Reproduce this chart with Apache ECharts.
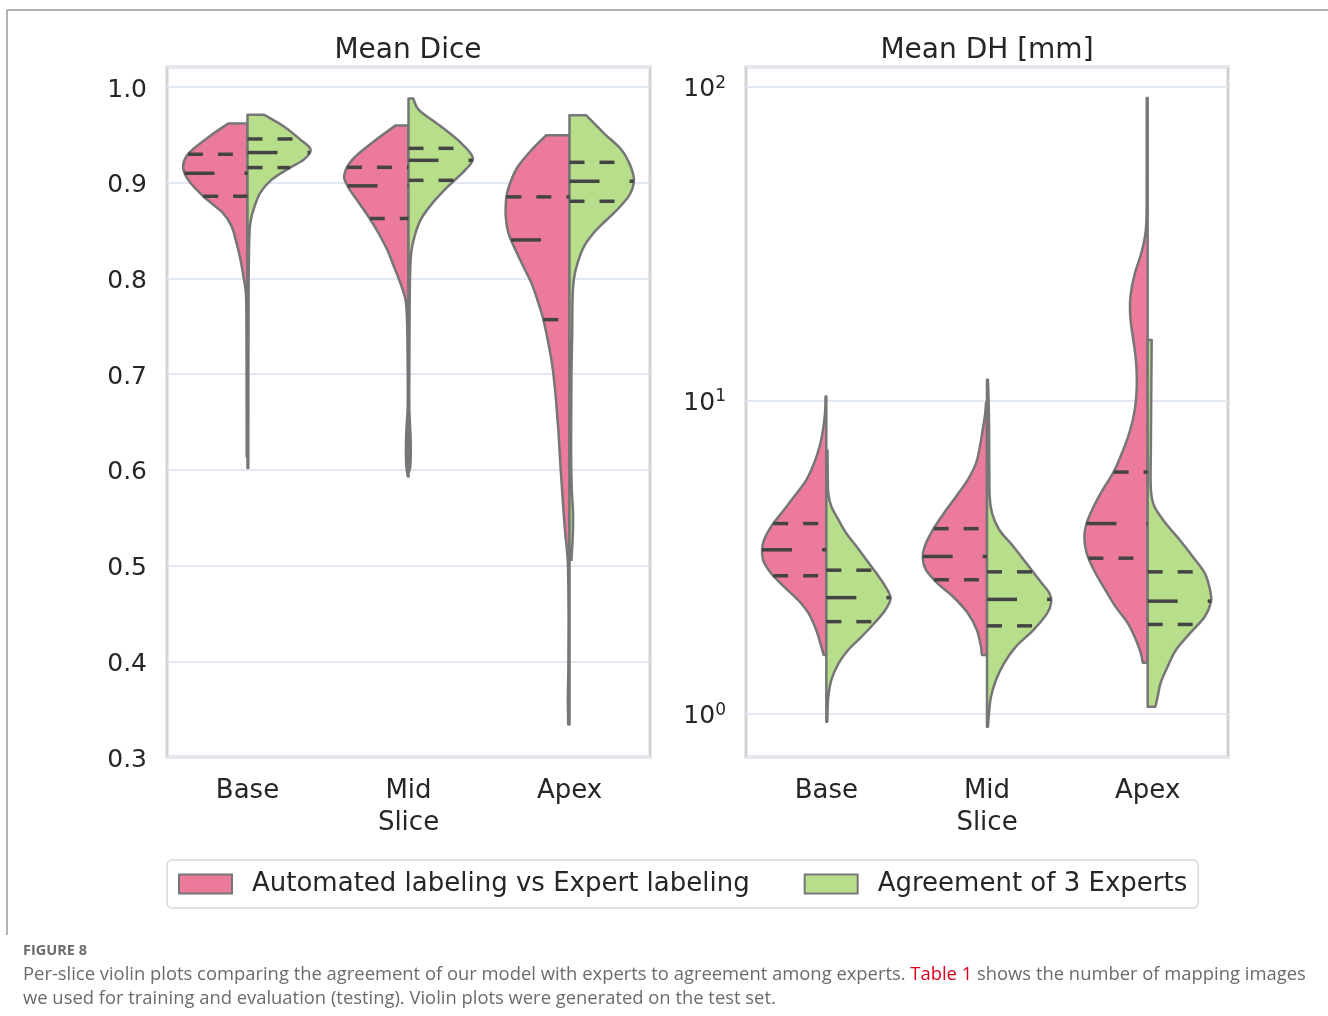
<!DOCTYPE html>
<html>
<head>
<meta charset="utf-8">
<script src="https://cdn.jsdelivr.net/npm/echarts@6/dist/echarts.min.js"></script>
<style>
  html, body { margin: 0; padding: 0; background: #ffffff; }
  #chart { width: 1328px; height: 1016px; }
</style>
</head>
<body>
<div id="chart"></div>
<script>
// ---- data -----------------------------------------------------------------
const categories = ['Base', 'Mid\nSlice', 'Apex'];
const groupNames = ['Automated labeling vs Expert labeling', 'Agreement of 3 Experts'];
const panelTitles = ['Mean Dice', 'Mean DH [mm]'];

// Kernel density profiles, one per slice: [metric value, relative density (1 = widest)]
// Mean Dice, automated labeling vs expert labeling
const diceAutoBase = [[0.614,0.012],[0.70,0.014],[0.75,0.016],[0.785,0.025],[0.802,0.063],[0.820,0.11],[0.837,0.17],[0.855,0.25],[0.869,0.39],[0.886,0.69],[0.903,0.92],[0.917,1.0],[0.931,0.91],[0.949,0.58],[0.962,0.30]];
const diceAutoMid = [[0.593,0.01],[0.605,0.035],[0.625,0.04],[0.645,0.03],[0.665,0.012],[0.72,0.014],[0.757,0.023],[0.778,0.047],[0.795,0.125],[0.813,0.23],[0.830,0.33],[0.848,0.47],[0.865,0.625],[0.882,0.8],[0.896,0.94],[0.9075,1.0],[0.924,0.875],[0.942,0.56],[0.960,0.2]];
const diceAutoApex = [[0.334,0.02],[0.36,0.025],[0.39,0.018],[0.45,0.014],[0.499,0.023],[0.514,0.036],[0.5345,0.067],[0.569,0.105],[0.604,0.14],[0.639,0.17],[0.656,0.19],[0.6735,0.21],[0.691,0.235],[0.708,0.265],[0.726,0.31],[0.743,0.36],[0.7605,0.42],[0.778,0.5],[0.795,0.59],[0.813,0.72],[0.830,0.84],[0.848,0.95],[0.865,0.99],[0.8824,0.985],[0.900,0.92],[0.917,0.8],[0.935,0.58],[0.9497,0.36]];
// Mean Dice, agreement of 3 experts
const diceExpBase = [[0.602,0.012],[0.70,0.014],[0.80,0.018],[0.848,0.031],[0.8615,0.052],[0.8754,0.11],[0.8898,0.2],[0.9033,0.375],[0.9138,0.61],[0.9242,0.875],[0.9347,0.98],[0.9451,0.82],[0.959,0.56],[0.971,0.26]];
const diceExpMid = [[0.598,0.01],[0.605,0.03],[0.625,0.035],[0.645,0.025],[0.665,0.012],[0.75,0.016],[0.80,0.023],[0.827,0.042],[0.844,0.094],[0.8615,0.19],[0.879,0.375],[0.896,0.61],[0.914,0.89],[0.926,1.0],[0.942,0.81],[0.959,0.5],[0.9765,0.156],[0.988,0.073]];
const diceExpApex = [[0.506,0.03],[0.53,0.05],[0.555,0.055],[0.58,0.035],[0.62,0.025],[0.70,0.03],[0.7435,0.042],[0.778,0.047],[0.799,0.067],[0.816,0.125],[0.834,0.23],[0.851,0.42],[0.8685,0.69],[0.886,0.92],[0.9016,1.0],[0.917,0.95],[0.935,0.8],[0.952,0.53],[0.9705,0.26]];
// Mean DH [mm], automated labeling vs expert labeling
const dhAutoBase = [[1.543,0.042],[1.64,0.078],[1.85,0.156],[2.10,0.28],[2.31,0.44],[2.55,0.66],[2.81,0.86],[3.10,0.985],[3.34,1.0],[3.59,0.97],[3.96,0.86],[4.37,0.70],[4.94,0.5],[5.58,0.31],[6.31,0.19],[7.13,0.105],[8.06,0.052],[9.12,0.02],[10.3,0.012]];
const dhAutoMid = [[1.543,0.08],[1.64,0.094],[1.85,0.156],[2.10,0.3],[2.37,0.53],[2.61,0.77],[2.88,0.95],[3.14,1.0],[3.42,0.97],[3.87,0.84],[4.37,0.67],[4.94,0.48],[5.58,0.3],[6.31,0.17],[7.13,0.11],[8.06,0.067],[9.12,0.027],[9.85,0.015]];
const dhAutoApex = [[1.458,0.078],[1.56,0.105],[1.72,0.18],[1.95,0.31],[2.20,0.5],[2.49,0.66],[2.81,0.81],[3.26,0.95],[3.68,0.985],[4.06,0.95],[4.59,0.84],[5.19,0.7],[5.91,0.53],[6.72,0.41],[7.6,0.31],[8.6,0.235],[9.7,0.19],[11.0,0.17],[12.4,0.172],[14.0,0.192],[15.9,0.23],[18.0,0.265],[20.3,0.275],[22.8,0.25],[25.8,0.19],[29.0,0.11],[33.0,0.045],[37.0,0.02],[45,0.015],[92.3,0.014]];
// Mean DH [mm], agreement of 3 experts
const dhExpBase = [[0.945,0.015],[1.05,0.02],[1.136,0.031],[1.284,0.078],[1.45,0.19],[1.60,0.34],[1.765,0.55],[1.95,0.75],[2.15,0.92],[2.34,1.0],[2.55,0.92],[2.81,0.78],[3.10,0.625],[3.42,0.47],[3.77,0.31],[4.16,0.19],[4.59,0.078],[5.06,0.03],[5.8,0.022],[6.92,0.018]];
const dhExpMid = [[0.911,0.015],[1.005,0.031],[1.136,0.0625],[1.284,0.14],[1.45,0.265],[1.64,0.45],[1.85,0.72],[2.10,0.94],[2.28,1.0],[2.43,0.97],[2.68,0.81],[3.03,0.61],[3.42,0.41],[3.87,0.19],[4.37,0.078],[5.0,0.04],[6.5,0.035],[9.0,0.03],[11.65,0.015]];
const dhExpApex = [[1.055,0.12],[1.136,0.156],[1.253,0.2],[1.416,0.31],[1.60,0.44],[1.81,0.66],[2.045,0.89],[2.28,0.985],[2.49,0.97],[2.81,0.89],[3.18,0.7],[3.59,0.5],[4.06,0.28],[4.59,0.105],[5.19,0.05],[7,0.05],[10,0.055],[15.6,0.0625]];

// Quartiles [Q1, median, Q3] per slice (Base, Mid Slice, Apex)
const diceAutoQuartiles = [[0.8859,0.910,0.9298],[0.8626,0.8968,0.9162],[0.757,0.8403,0.8853]];
const diceExpQuartiles  = [[0.9159,0.9316,0.9458],[0.9026,0.9235,0.936],[0.8807,0.9016,0.9214]];
const dhAutoQuartiles   = [[2.76,3.34,4.05],[2.68,3.18,3.90],[3.14,4.05,5.91]];
const dhExpQuartiles    = [[1.97,2.35,2.875],[1.91,2.32,2.84],[1.93,2.29,2.84]];

// Axis ranges and ticks
const diceRange = [0.3, 1.021];
const diceTickStep = 0.1;
const dhRange = [0.729, 115.8];

// ---- styling ----------------------------------------------------------------
const PINK = '#ec7a9b';
const GREEN = '#b7de8b';
const OUTLINE = '#767676';
const INNER = '#444444';
const TEXT = '#262626';
const FONT = "'DejaVu Sans', sans-serif";
const CAPTION_FONT = "'Open Sans', sans-serif";

// cubic Hermite (in screen y) through the violin edge points
function tangents(pts) {
  const n = pts.length;
  const h = [], s = [], m = new Array(n);
  for (let i = 0; i < n - 1; i++) {
    h[i] = pts[i][1] - pts[i + 1][1];            // screen y shrinks as the value grows
    s[i] = (pts[i + 1][0] - pts[i][0]) / (h[i] || 1e-6);
  }
  m[0] = s[0];
  m[n - 1] = s[n - 2];
  for (let i = 1; i < n - 1; i++) {
    const s0 = s[i - 1], s1 = s[i];
    let mi = (pts[i + 1][0] - pts[i - 1][0]) / ((h[i - 1] + h[i]) || 1e-6);
    if (s0 * s1 > 0) {
      const lim = 3 * Math.min(Math.abs(s0), Math.abs(s1));
      if (Math.abs(mi) > lim) mi = Math.sign(mi) * lim;
    }
    m[i] = mi;
  }
  return { h, m };
}

function edgeX(pts, tg, y) {
  for (let i = 0; i < pts.length - 1; i++) {
    const y0 = pts[i][1], y1 = pts[i + 1][1];
    if (y <= y0 && y >= y1) {
      const hh = tg.h[i];
      const t = hh ? (y0 - y) / hh : 0;
      const t2 = t * t, t3 = t2 * t;
      return (2 * t3 - 3 * t2 + 1) * pts[i][0] + (t3 - 2 * t2 + t) * hh * tg.m[i]
           + (-2 * t3 + 3 * t2) * pts[i + 1][0] + (t3 - t2) * hh * tg.m[i + 1];
    }
  }
  return pts[0][0];
}

function makeViolinRenderer(profiles, quartiles, side, fill) {
  return function (params, api) {
    const idx = api.value(0);
    const prof = profiles[idx];
    const ref = prof[0][0];
    const cx = api.coord([idx, ref])[0];
    const band = Math.abs(api.coord([1, ref])[0] - api.coord([0, ref])[0]);
    const halfMax = 0.4 * band;
    const pts = prof.map(function (p) {
      return [cx + side * p[1] * halfMax, api.coord([idx, p[0]])[1]];
    });
    const tg = tangents(pts);
    const n = pts.length;
    let d = 'M' + cx + ',' + pts[0][1] + 'L' + pts[0][0] + ',' + pts[0][1];
    for (let i = 0; i < n - 1; i++) {
      const hh = tg.h[i];
      const c1x = pts[i][0] + tg.m[i] * hh / 3, c1y = pts[i][1] - hh / 3;
      const c2x = pts[i + 1][0] - tg.m[i + 1] * hh / 3, c2y = pts[i + 1][1] + hh / 3;
      d += 'C' + c1x + ',' + c1y + ',' + c2x + ',' + c2y + ',' + pts[i + 1][0] + ',' + pts[i + 1][1];
    }
    d += 'L' + cx + ',' + pts[n - 1][1] + 'Z';

    const children = [{
      type: 'path',
      shape: { pathData: d },
      style: { fill: fill, stroke: OUTLINE, lineWidth: 2.5, lineJoin: 'round' },
      z2: 1
    }];
    quartiles[idx].forEach(function (q, k) {
      const y = api.coord([idx, q])[1];
      const ex = edgeX(pts, tg, y);
      const x1 = Math.min(cx, ex), x2 = Math.max(cx, ex);
      const dash = k === 1 ? [30, 30] : [15, 15];
      children.push({
        type: 'line',
        shape: { x1: x1, y1: y, x2: x2, y2: y },
        style: { stroke: INNER, lineWidth: 3.5, lineDash: dash, lineCap: 'butt' },
        z2: 2
      });
    });
    return { type: 'group', children: children };
  };
}

function violinSeries(name, gridIdx, profiles, quartiles, side, fill) {
  return {
    type: 'custom',
    name: name,
    xAxisIndex: gridIdx,
    yAxisIndex: gridIdx,
    itemStyle: { color: fill },
    encode: { x: 0, y: 1 },
    data: categories.map(function (c, i) { return [i, quartiles[i][1]]; }),
    renderItem: makeViolinRenderer(profiles, quartiles, side, fill),
    clip: false,
    silent: true
  };
}

const catAxis = function (gridIdx) {
  return {
    type: 'category',
    gridIndex: gridIdx,
    data: categories,
    boundaryGap: true,
    axisLine: { show: false },
    axisTick: { show: false },
    splitLine: { show: false },
    axisLabel: { fontSize: 26, lineHeight: 32, color: TEXT, fontFamily: FONT, margin: 18 }
  };
};

const gridLine = { show: true, lineStyle: { color: '#e2e8f3', width: 2 } };

const option = {
  animation: false,
  backgroundColor: '#ffffff',
  title: [
    { text: panelTitles[0], left: 408, top: 37, textAlign: 'center', padding: 0,
      textStyle: { fontSize: 28, fontWeight: 'normal', color: TEXT, fontFamily: FONT } },
    { text: panelTitles[1], left: 987, top: 37, textAlign: 'center', padding: 0,
      textStyle: { fontSize: 28, fontWeight: 'normal', color: TEXT, fontFamily: FONT } }
  ],
  grid: [
    { left: 167, top: 67, width: 483, height: 690, show: true, borderColor: '#d3d3d3', borderWidth: 3, backgroundColor: 'transparent' },
    { left: 746, top: 67, width: 482, height: 690, show: true, borderColor: '#d3d3d3', borderWidth: 3, backgroundColor: 'transparent' }
  ],
  xAxis: [catAxis(0), catAxis(1)],
  yAxis: [
    {
      type: 'value', gridIndex: 0,
      min: diceRange[0], max: diceRange[1], interval: diceTickStep,
      axisLine: { show: false }, axisTick: { show: false },
      splitLine: gridLine,
      axisLabel: {
        margin: 20,
        showMaxLabel: false,
        formatter: function (v) {
          return Math.abs(v * 10 - Math.round(v * 10)) < 1e-6 ? '{v|' + v.toFixed(1) + '}' : '';
        },
        rich: {
          v: { fontSize: 25, color: TEXT, fontFamily: FONT, lineHeight: 30, padding: [6, 0, 0, 0] }
        }
      }
    },
    {
      type: 'log', gridIndex: 1, logBase: 10,
      min: dhRange[0], max: dhRange[1],
      axisLine: { show: false }, axisTick: { show: false },
      splitLine: gridLine,
      axisLabel: {
        margin: 20, showMinLabel: false, showMaxLabel: false,
        padding: [6, 0, 0, 0],
        formatter: function (v) {
          const e = Math.log10(v);
          if (Math.abs(e - Math.round(e)) > 1e-6) return '';
          return '{b|10}{s|' + Math.round(e) + '}';
        },
        rich: {
          b: { fontSize: 25, color: TEXT, fontFamily: FONT, lineHeight: 30 },
          s: { fontSize: 17, color: TEXT, fontFamily: FONT, verticalAlign: 'top', lineHeight: 18 }
        }
      }
    }
  ],
  legend: {
    data: groupNames.map(function (n) { return { name: n, icon: 'rect' }; }),
    left: 167, top: 860,
    itemWidth: 53, itemHeight: 19, itemGap: 54,
    padding: [9, 11, 9, 11],
    borderColor: '#d8d8d8', borderWidth: 1.5, borderRadius: 5,
    backgroundColor: '#ffffff',
    itemStyle: { borderColor: OUTLINE, borderWidth: 2 },
    textStyle: { fontSize: 26, color: TEXT, fontFamily: FONT, padding: [0, 0, 0, 15], lineHeight: 30 },
    selectedMode: false
  },
  graphic: [
    { type: 'line', shape: { x1: 7, y1: 10, x2: 1328, y2: 10 }, style: { stroke: '#9a9a9a', lineWidth: 1.5 } },
    { type: 'line', shape: { x1: 7, y1: 10, x2: 7, y2: 935 }, style: { stroke: '#9a9a9a', lineWidth: 1.5 } },
    { type: 'text', left: 23, top: 943,
      style: { text: 'FIGURE 8', fontSize: 14.5, fontWeight: 'bold', fill: '#6b6b6b', fontFamily: CAPTION_FONT } },
    { type: 'text', left: 23, top: 966,
      style: {
        text: '{n|Per-slice violin plots comparing the agreement of our model with experts to agreement among experts. }{r|Table 1}{n| shows the number of mapping images}',
        rich: {
          n: { fontSize: 18.4, fill: '#6b6b6b', fontFamily: CAPTION_FONT },
          r: { fontSize: 18.4, fill: '#d9001b', fontFamily: CAPTION_FONT }
        }
      } },
    { type: 'text', left: 23, top: 990,
      style: { text: 'we used for training and evaluation (testing). Violin plots were generated on the test set.',
        fontSize: 18.4, fill: '#6b6b6b', fontFamily: CAPTION_FONT } }
  ],
  series: [
    violinSeries(groupNames[0], 0, [diceAutoBase, diceAutoMid, diceAutoApex], diceAutoQuartiles, -1, PINK),
    violinSeries(groupNames[1], 0, [diceExpBase, diceExpMid, diceExpApex], diceExpQuartiles, 1, GREEN),
    violinSeries(groupNames[0], 1, [dhAutoBase, dhAutoMid, dhAutoApex], dhAutoQuartiles, -1, PINK),
    violinSeries(groupNames[1], 1, [dhExpBase, dhExpMid, dhExpApex], dhExpQuartiles, 1, GREEN)
  ]
};

const chart = echarts.init(document.getElementById('chart'), null, { renderer: 'canvas' });
chart.setOption(option);
</script>
</body>
</html>
